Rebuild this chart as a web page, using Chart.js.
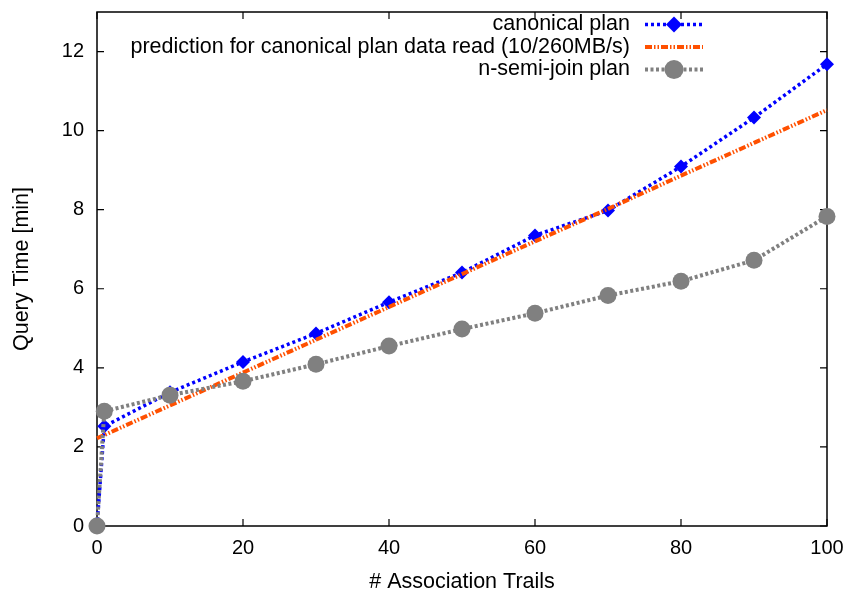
<!DOCTYPE html>
<html>
<head>
<meta charset="utf-8">
<script src="https://cdn.jsdelivr.net/npm/chart.js"></script>
<style>
  body { margin: 0; background: #fff; }
</style>
</head>
<body>
<canvas id="myChart" width="849" height="591"></canvas>
<script>
// data
const trails = [0, 1, 10, 20, 30, 40, 50, 60, 70, 80, 90, 100];
const canonicalPlan = [0, 2.52, 3.38, 4.15, 4.87, 5.66, 6.41, 7.35, 7.98, 9.09, 10.33, 11.68];
const predictionRead = [2.22, 2.30, 3.05, 3.88, 4.71, 5.54, 6.37, 7.20, 8.02, 8.86, 9.69, 10.52];
const semiJoinPlan = [0, 2.90, 3.31, 3.66, 4.09, 4.55, 4.98, 5.38, 5.83, 6.19, 6.72, 7.83];
const xTicks = [0, 20, 40, 60, 80, 100];
const yTicks = [0, 2, 4, 6, 8, 10, 12];

const FONT = "'Liberation Sans', Arial, Helvetica, sans-serif";

function toPoints(vals) {
  return trails.map((x, i) => ({x: x, y: vals[i]}));
}

// gnuplot style frame with inward ticks on all four sides
const framePlugin = {
  id: 'frame',
  beforeDatasetsDraw(chart) {
    const {ctx, chartArea: a, scales} = chart;
    ctx.save();
    ctx.strokeStyle = '#000';
    ctx.lineWidth = 1.5;
    ctx.strokeRect(a.left, a.top, a.right - a.left, a.bottom - a.top);
    ctx.lineWidth = 1.2;
    const len = 7;
    ctx.beginPath();
    xTicks.forEach(v => {
      const px = scales.x.getPixelForValue(v);
      ctx.moveTo(px, a.bottom); ctx.lineTo(px, a.bottom - len);
      ctx.moveTo(px, a.top); ctx.lineTo(px, a.top + len);
    });
    yTicks.forEach(v => {
      const py = scales.y.getPixelForValue(v);
      ctx.moveTo(a.left, py); ctx.lineTo(a.left + len, py);
      ctx.moveTo(a.right, py); ctx.lineTo(a.right - len, py);
    });
    ctx.stroke();
    ctx.restore();
  }
};

// key in the upper right, text right aligned, sample to the right
const keyPlugin = {
  id: 'key',
  afterDraw(chart) {
    const {ctx, chartArea: a} = chart;
    ctx.save();
    ctx.font = '21.5px ' + FONT;
    ctx.textAlign = 'right';
    ctx.textBaseline = 'middle';
    chart.data.datasets.forEach((ds, i) => {
      const y = a.top + 12.5 + i * 22.5;
      const tx = a.right - 197;
      ctx.fillStyle = '#000';
      ctx.fillText(ds.label, tx, y);
      const x0 = a.right - 182, x1 = a.right - 124;
      ctx.strokeStyle = ds.borderColor;
      ctx.lineWidth = ds.borderWidth;
      ctx.setLineDash(ds.borderDash);
      ctx.beginPath();
      ctx.moveTo(x0, y); ctx.lineTo(x1, y);
      ctx.stroke();
      ctx.setLineDash([]);
      if (ds.pointRadius > 0) {
        ctx.fillStyle = ds.pointBackgroundColor;
        ctx.strokeStyle = ds.pointBackgroundColor;
        Chart.helpers.drawPoint(ctx, {
          pointStyle: ds.pointStyle, radius: ds.pointRadius + 1, rotation: 0, borderWidth: 0
        }, (x0 + x1) / 2, y);
      }
    });
    ctx.restore();
  }
};

const data = {
  datasets: [{
    label: 'canonical plan',
    data: toPoints(canonicalPlan),
    borderColor: '#0000ff',
    borderWidth: 3.5,
    borderDash: [3, 3],
    pointStyle: 'rectRot',
    pointRadius: 7,
    pointBackgroundColor: '#0000ff',
    pointBorderWidth: 0,
    clip: false,
    order: 3
  }, {
    label: 'prediction for canonical plan data read (10/260MB/s)',
    data: toPoints(predictionRead),
    borderColor: '#ff5000',
    borderWidth: 4,
    borderDash: [7, 2, 1.5, 2, 1.5, 2],
    pointRadius: 0,
    pointBackgroundColor: '#ff5000',
    clip: false,
    order: 2
  }, {
    label: 'n-semi-join plan',
    data: toPoints(semiJoinPlan),
    borderColor: '#808080',
    borderWidth: 4,
    borderDash: [3, 2.5],
    pointStyle: 'circle',
    pointRadius: 8.5,
    pointBackgroundColor: '#808080',
    pointBorderWidth: 0,
    clip: false,
    order: 1
  }]
};

new Chart(document.getElementById('myChart'), {
  type: 'line',
  data: data,
  options: {
    responsive: false,
    animation: false,
    layout: { padding: { left: 0, right: 22, top: 12, bottom: 0 } },
    elements: { line: { tension: 0, fill: false } },
    plugins: {
      legend: { display: false },
      tooltip: { enabled: false }
    },
    scales: {
      x: {
        type: 'linear',
        min: 0,
        max: 100,
        afterFit(scale) {
          scale.height = 65;
          scale.paddingLeft = 0;
          scale.paddingRight = 0;
        },
        afterBuildTicks(scale) { scale.ticks = xTicks.map(v => ({value: v})); },
        grid: { display: false, drawTicks: false },
        border: { display: false },
        ticks: { color: '#000', font: { family: FONT, size: 20 }, padding: 10, maxRotation: 0 },
        title: {
          display: true,
          text: '# Association Trails',
          color: '#000',
          font: { family: FONT, size: 21.5 },
          padding: { top: 0, bottom: -3.5 }
        }
      },
      y: {
        type: 'linear',
        min: 0,
        max: 13,
        afterFit(scale) {
          scale.width = 97;
          scale.paddingTop = 0;
          scale.paddingBottom = 0;
        },
        afterBuildTicks(scale) { scale.ticks = yTicks.map(v => ({value: v})); },
        grid: { display: false, drawTicks: false },
        border: { display: false },
        ticks: { color: '#000', font: { family: FONT, size: 20 }, padding: 13 },
        title: {
          display: true,
          text: 'Query Time [min]',
          color: '#000',
          font: { family: FONT, size: 21.5 },
          padding: { top: 9, bottom: 0 }
        }
      }
    }
  },
  plugins: [framePlugin, keyPlugin]
});
</script>
</body>
</html>
